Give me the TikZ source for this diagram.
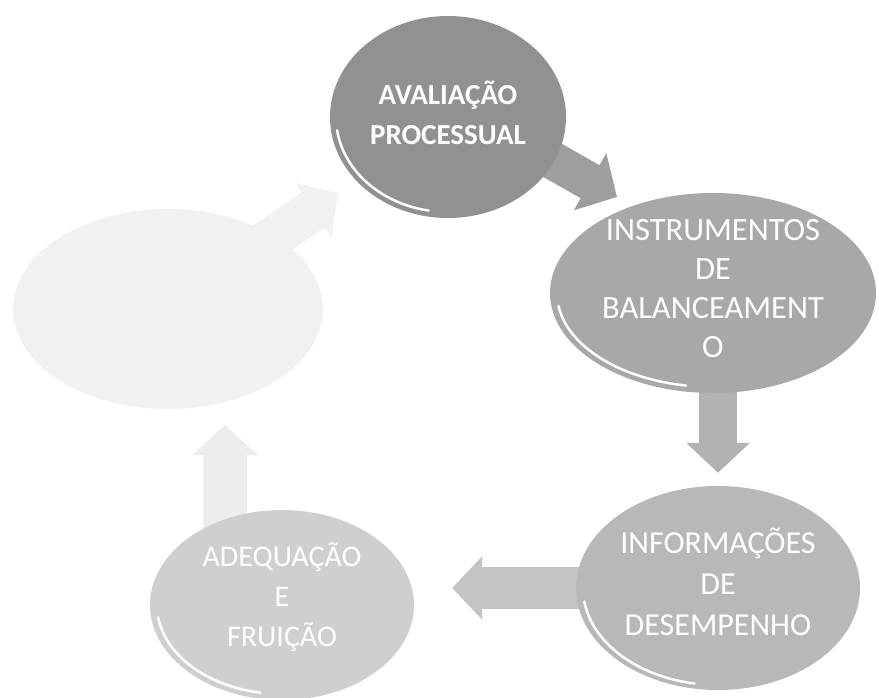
\documentclass[tikz,border=0pt]{standalone}
\usepackage{fontspec}
\setmainfont{Carlito}
\usetikzlibrary{arrows.meta,shapes.geometric,backgrounds}
\definecolor{cTop}{gray}{0.57}
\definecolor{cRight}{gray}{0.66}
\definecolor{cBR}{gray}{0.72}
\definecolor{cBL}{gray}{0.81}
\definecolor{cLeft}{gray}{0.945}
\definecolor{aOne}{gray}{0.62}
\definecolor{aTwo}{gray}{0.70}
\definecolor{aThree}{gray}{0.77}
\definecolor{aFour}{gray}{0.93}
\definecolor{aFive}{gray}{0.945}
\begin{document}
\begin{tikzpicture}[x=1pt,y=-1pt,
  bub/.style={ellipse, inner sep=0pt, draw=none},
  txt/.style={align=center, text=white, inner sep=0pt},
  shine/.style={white, line width=2.5pt, line cap=round},
  blockarr/.style n args={3}{line width=#1, -{Triangle[width=#2,length=#3]}}
]
\useasboundingbox (0,0) rectangle (879,697);

% ellipses
\node[bub, fill=cLeft,  minimum width=310pt, minimum height=200pt] (left)  at (168,309) {};
\node[bub, fill=cTop,   minimum width=236pt, minimum height=202pt] (top)   at (448,117) {};
\node[bub, fill=cRight, minimum width=326pt, minimum height=200pt] (right) at (713,293) {};
\node[bub, fill=cBR,    minimum width=284pt, minimum height=204pt] (br)    at (718,588) {};
\node[bub, fill=cBL,    minimum width=264pt, minimum height=190pt] (bl)    at (282,605) {};

% highlights
\draw[shine] (top.center) ++(172:112 and 95) arc[start angle=172, end angle=100, x radius=112, y radius=95];
\draw[shine] (right.center) ++(172:156 and 94) arc[start angle=172, end angle=100, x radius=156, y radius=94];
\draw[shine] (br.center) ++(172:135 and 97) arc[start angle=172, end angle=100, x radius=135, y radius=97];
\draw[shine] (bl.center) ++(172:125 and 89) arc[start angle=172, end angle=100, x radius=125, y radius=89];

% texts
\node[txt, font=\bfseries\fontsize{29}{40}\selectfont] (topT) at ([yshift=4pt]top.center) {AVALIAÇÃO\\PROCESSUAL};
\node[txt, font=\fontsize{32.5}{39}\selectfont] (rightT) at ([yshift=4pt]right.center) {INSTRUMENTOS\\DE\\BALANCEAMENT\\O};
\node[txt, font=\fontsize{32}{41}\selectfont] (brT) at ([yshift=6pt]br.center) {INFORMAÇÕES\\DE\\DESEMPENHO};
\node[txt, font=\fontsize{30}{40}\selectfont] (blT) at ([yshift=8pt]bl.center) {ADEQUAÇÃO\\E\\FRUIÇÃO};

% arrow end points
\coordinate (tipOne) at (617,197);
\coordinate (tipFour) at (225,425);
\coordinate (tipFive) at (338,193);

\begin{scope}[on background layer]
\draw[blockarr={38pt}{64pt}{31pt}, aOne] ([yshift=16pt]top.center) -- (tipOne);
\draw[blockarr={38pt}{62pt}{30pt}, aTwo] (br.north |- right.center) -- ([yshift=13pt]br.north);
\draw[blockarr={42pt}{62pt}{30pt}, aThree] (br.center) -- ([xshift=38pt]br.center -| bl.east);
\draw[blockarr={44pt}{64pt}{30pt}, aFour] (tipFour |- bl.center) -- (tipFour);
\draw[blockarr={42pt}{64pt}{30pt}, aFive] (left.center) -- (tipFive);
\end{scope}
\end{tikzpicture}
\end{document}
